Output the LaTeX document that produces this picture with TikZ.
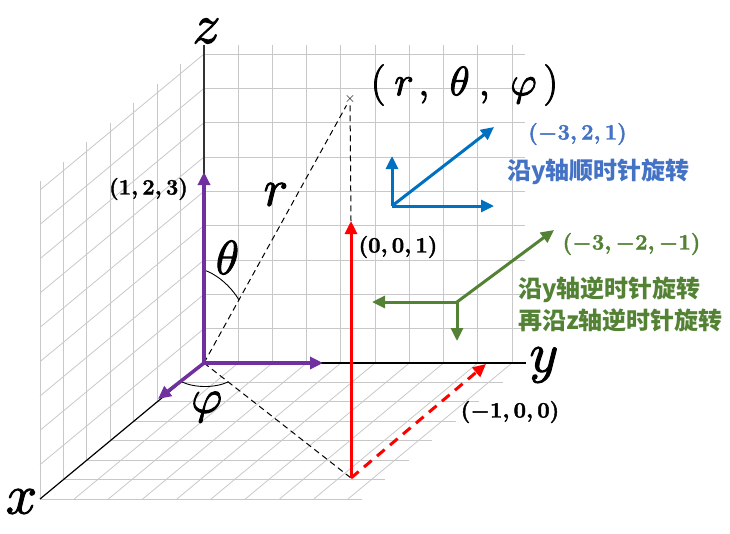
\RequirePackage{fix-cm}
\documentclass[tikz,border=0pt]{standalone}
\usepackage{fontspec}
\newfontfamily\cjk{Noto Sans CJK SC}
\usetikzlibrary{arrows.meta}
\definecolor{gridc}{RGB}{200,200,200}
\definecolor{purpleV}{HTML}{7030A0}
\definecolor{redV}{HTML}{FF0000}
\definecolor{blueV}{HTML}{0070C0}
\definecolor{blueT}{HTML}{4472C4}
\definecolor{greenV}{HTML}{548235}
\newcommand\heavytext[2]{\special{pdf:literal direct q 2 Tr #1 w 1 j}#2\special{pdf:literal direct Q}}
\begin{document}
\begin{tikzpicture}[x=1pt,y=-1pt,
  gridline/.style={gridc, line width=0.8pt},
  axis/.style={black, line width=1.2pt},
  vec/.style={line width=3pt, -{Triangle[length=13pt,width=12pt]}},
  guide/.style={black, line width=1pt, dash pattern=on 6pt off 4pt},
  arcline/.style={black, line width=0.9pt},
  bigmath/.style={inner sep=0pt, font=\fontsize{56}{60}\selectfont},
  angmath/.style={inner sep=0pt, font=\fontsize{48}{52}\selectfont},
  coord/.style={inner sep=0pt, font=\fontsize{22}{24}\selectfont\boldmath},
  cjklabel/.style={inner sep=0pt, font=\cjk\bfseries\fontsize{24}{32}\selectfont},
]
\useasboundingbox (0,0) rectangle (730,533);

% ---------- grid ----------
\foreach \k in {1,...,9} {
  \draw[gridline] (204, {363-34.33*\k}) -- (525, {363-34.33*\k});
  \draw[gridline] ({204+34.22*\k}, 363) -- ({204+34.22*\k}, 45);
  \draw[gridline] (204, {363-34.33*\k}) -- (40, {499-34.33*\k});
  \draw[gridline] ({204+34.22*\k}, 363) -- ({40+34.22*\k}, 499);
}
\foreach \i in {1,...,7} {
  \draw[gridline] ({204-23.43*\i}, {363+19.43*\i}) -- ({204-23.43*\i}, {45+19.43*\i});
  \draw[gridline] ({204-23.43*\i}, {363+19.43*\i}) -- ({526-23.43*\i}, {363+19.43*\i});
}

% ---------- axes ----------
\coordinate (O) at (204,363);
\coordinate (zt) at (204,45);
\coordinate (yt) at (526,363);
\coordinate (xt) at (40,499);
\draw[axis, black!80] (O) -- (zt);
\draw[axis] (O) -- (yt);
\draw[axis] (O) -- (xt);
\node[bigmath] (zl) at (206.5,31) {\heavytext{1.1}{$z$}};
\node[bigmath] (yl) at (544,365) {\heavytext{1.1}{$y$}};
\node[bigmath] (xl) at (21.5,501.5) {\heavytext{1.1}{$x$}};

% ---------- spherical point ----------
\node[inner sep=1.5pt, font=\fontsize{14}{14}\selectfont] (P) at (350,99) {$\times$};
\coordinate (B) at (351,478);
\coordinate (T) at (351,221);
\coordinate (R) at (486,364);
\draw[guide] (O) -- (P);
\draw[guide] (P) -- (T);
\draw[guide] (O) -- (B);
\node[inner sep=0pt, font=\fontsize{41}{44}\selectfont] (pl) at (464.5,85)
  {\heavytext{1.0}{$(\mkern4mu r\mkern2mu,\mkern6mu\theta\mkern4mu,\mkern6mu\varphi\mkern3mu)$}};
\node[bigmath, font=\fontsize{52}{56}\selectfont] (rl) at (276,194.5) {\heavytext{1.1}{$r$}};

% angle arcs
\coordinate (th1) at (204,270);
\coordinate (th2) at (239,300);
\draw[arcline] (th1) .. controls (216,274) and (230,285) .. (th2);
\node[angmath] (tl) at (227.5,257.5) {\heavytext{1.0}{$\theta$}};
\coordinate (ph1) at (182,382);
\coordinate (ph2) at (228,382);
\draw[arcline] (ph1) .. controls (195,388) and (215,388) .. (ph2);
\node[angmath] (fl) at (206.7,407) {\heavytext{1.0}{$\varphi$}};

% ---------- red vectors ----------
\draw[vec, redV] (B) -- (T);
\draw[vec, redV, dash pattern=on 10pt off 7pt] (B) -- (R);
\node[coord] (c001) at (398,247) {\heavytext{0.4}{$(0,0,1)$}};
\node[coord] (c100) at (510,412) {\heavytext{0.4}{$(-1,0,0)$}};

% ---------- purple vectors ----------
\coordinate (pz) at (204,172);
\coordinate (py) at (323,363);
\coordinate (px) at (158,399);
\draw[vec, purpleV, line width=3.5pt] (O) -- (pz);
\draw[vec, purpleV, line width=3.5pt] (O) -- (py);
\draw[vec, purpleV, line width=3.5pt] (O) -- (px);
\node[coord] (c123) at (148.5,189) {\heavytext{0.4}{$(1,2,3)$}};

% ---------- blue frame ----------
\coordinate (BO) at (392,206);
\coordinate (bz) at (392,156);
\coordinate (by) at (494,206);
\coordinate (bd) at (494,127);
\draw[vec, blueV] (BO) -- (bz);
\draw[vec, blueV] (BO) -- (by);
\draw[vec, blueV] (BO) -- (bd);
\node[coord, text=blueT] (cb) at (577.5,134) {\heavytext{0.4}{$(-3,2,1)$}};
\node[cjklabel, anchor=west, text=blueT] (tb) at (507,172) {沿y轴顺时针旋转};

% ---------- green frame ----------
\coordinate (GO) at (457,302);
\coordinate (gl) at (372,302);
\coordinate (gd) at (457,341);
\coordinate (gu) at (554,230);
\draw[vec, greenV] (GO) -- (gl);
\draw[vec, greenV] (GO) -- (gd);
\draw[vec, greenV] (GO) -- (gu);
\node[coord, text=greenV] (cg) at (631.5,244) {\heavytext{0.4}{$(-3,-2,-1)$}};
\node[cjklabel, anchor=west, align=left, text=greenV] (tg) at (518,304)
  {沿y轴逆时针旋转\\再沿z轴逆时针旋转};
\end{tikzpicture}
\end{document}
